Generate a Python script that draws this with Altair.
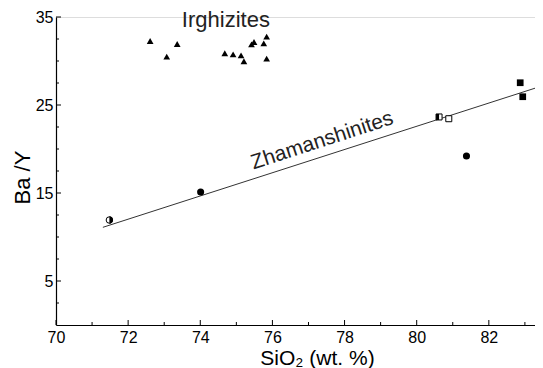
import altair as alt
import pandas as pd

# ---- data ----
tri_x = [72.61, 73.07, 73.36, 74.68, 74.91, 75.13, 75.21, 75.42, 75.49, 75.76, 75.84, 75.84]
tri_y = [32.27, 30.49, 31.93, 30.88, 30.76, 30.65, 29.97, 31.90, 32.16, 32.00, 32.76, 30.26]

circ_x = [74.01, 81.38]
circ_y = [15.11, 19.20]

halfcirc_x = [71.48]
halfcirc_y = [11.93]

sq_x = [82.87, 82.94]
sq_y = [27.53, 25.94]

halfsq_left_x = [80.62]
halfsq_left_y = [23.64]
opensq_x = [80.89]
opensq_y = [23.44]

line_x = [71.3, 83.28]
line_y = [11.1, 26.91]

x_major = [70, 72, 74, 76, 78, 80, 82]
x_minor = [71, 73, 75, 77, 79, 81, 83]
y_major = [5, 15, 25, 35]
y_minor = [2.5, 7.5, 10, 12.5, 17.5, 20, 22.5, 27.5, 30, 32.5]

labels = ["Irghizites", "Zhamanshinites"]
label_x = [74.71, 77.38]
label_y = [33.85, 20.93]

W, H = 479, 308
FONT = "Liberation Sans"

xs = alt.Scale(domain=[70, 83.28], nice=False, zero=False)
ys = alt.Scale(domain=[0, 35], nice=False, zero=False)

X = lambda: alt.X("x:Q", scale=xs, axis=alt.Axis(
    values=x_major, format="d", title="SiO₂ (wt. %)", grid=False, ticks=False, tickSize=0,
    labelFontSize=16, labelFont=FONT, labelColor="black", labelPadding=4,
    titleFontSize=21, titleFont=FONT, titleFontWeight="normal", titleColor="black", titlePadding=2,
    titleX=261, titleAlign="center",
    domainColor="black", domainWidth=1.2, labelFlush=False))
Y = lambda: alt.Y("y:Q", scale=ys, axis=alt.Axis(
    values=y_major, format="d", title="Ba /Y", grid=False, ticks=False, tickSize=0,
    labelFontSize=16, labelFont=FONT, labelColor="black", labelPadding=3,
    titleFontSize=22, titleFont=FONT, titleFontWeight="normal", titleColor="black", titlePadding=1,
    titleY=160, titleAlign="center",
    domainColor="black", domainWidth=1.2, labelFlush=False))

def df(x, y):
    return pd.DataFrame({"x": x, "y": y})

enc = dict(x=alt.X("x:Q", scale=xs), y=alt.Y("y:Q", scale=ys))

base_line = alt.Chart(df(line_x, line_y)).mark_line(color="#333333", strokeWidth=1).encode(x=X(), y=Y())

tri = alt.Chart(df(tri_x, tri_y)).mark_point(shape="triangle-up", filled=True, color="black", size=45, opacity=1).encode(**enc)
circ = alt.Chart(df(circ_x, circ_y)).mark_point(shape="circle", filled=True, color="black", size=50, opacity=1).encode(**enc)
hc_open = alt.Chart(df(halfcirc_x, halfcirc_y)).mark_point(shape="circle", filled=True, fill="white", stroke="black", strokeWidth=1, size=42, opacity=1).encode(**enc)
hc_half = alt.Chart(df(halfcirc_x, halfcirc_y)).mark_point(shape="M0,-1A1,1 0 0,1 0,1Z", filled=True, color="black", size=54, opacity=1).encode(**enc)
sq = alt.Chart(df(sq_x, sq_y)).mark_point(shape="square", filled=True, color="black", size=45, opacity=1).encode(**enc)
hs_open = alt.Chart(df(halfsq_left_x + opensq_x, halfsq_left_y + opensq_y)).mark_point(shape="square", filled=True, fill="white", stroke="black", strokeWidth=1, size=36, opacity=1).encode(**enc)
hs_half = alt.Chart(df(halfsq_left_x, halfsq_left_y)).mark_point(shape="M-1,-1H0V1H-1Z", filled=True, color="black", size=36, opacity=1).encode(**enc)

# inward tick marks
xt_major = alt.Chart(pd.DataFrame({"x": x_major})).mark_rule(color="black", strokeWidth=1).encode(
    x=alt.X("x:Q", scale=xs), y=alt.value(H), y2=alt.value(H - 5))
xt_minor = alt.Chart(pd.DataFrame({"x": x_minor})).mark_rule(color="black", strokeWidth=1).encode(
    x=alt.X("x:Q", scale=xs), y=alt.value(H), y2=alt.value(H - 3))
yt_major = alt.Chart(pd.DataFrame({"y": y_major})).mark_rule(color="black", strokeWidth=1).encode(
    y=alt.Y("y:Q", scale=ys), x=alt.value(0), x2=alt.value(5))
yt_minor = alt.Chart(pd.DataFrame({"y": y_minor})).mark_rule(color="black", strokeWidth=1).encode(
    y=alt.Y("y:Q", scale=ys), x=alt.value(0), x2=alt.value(3))

t1 = alt.Chart(pd.DataFrame({"x": label_x[:1], "y": label_y[:1], "t": labels[:1]})).mark_text(
    font=FONT, fontSize=22, color="#222222", align="center", baseline="alphabetic").encode(
    x=alt.X("x:Q", scale=xs), y=alt.Y("y:Q", scale=ys), text="t:N")
t2 = alt.Chart(pd.DataFrame({"x": label_x[1:], "y": label_y[1:], "t": labels[1:]})).mark_text(
    font=FONT, fontSize=21, color="#222222", align="center", baseline="middle", angle=342).encode(
    x=alt.X("x:Q", scale=xs), y=alt.Y("y:Q", scale=ys), text="t:N")

chart = alt.layer(base_line, xt_major, xt_minor, yt_major, yt_minor,
                  tri, circ, hc_open, hc_half, sq, hs_open, hs_half, t1, t2).properties(
    width=W, height=H,
    autosize=alt.AutoSizeParams(type="none"),
    padding={"left": 48, "top": 9, "right": 0, "bottom": 43},
).configure_view(stroke=None).configure(background="white")

chart.save("out.html", embed_options={"renderer": "svg", "actions": False})
